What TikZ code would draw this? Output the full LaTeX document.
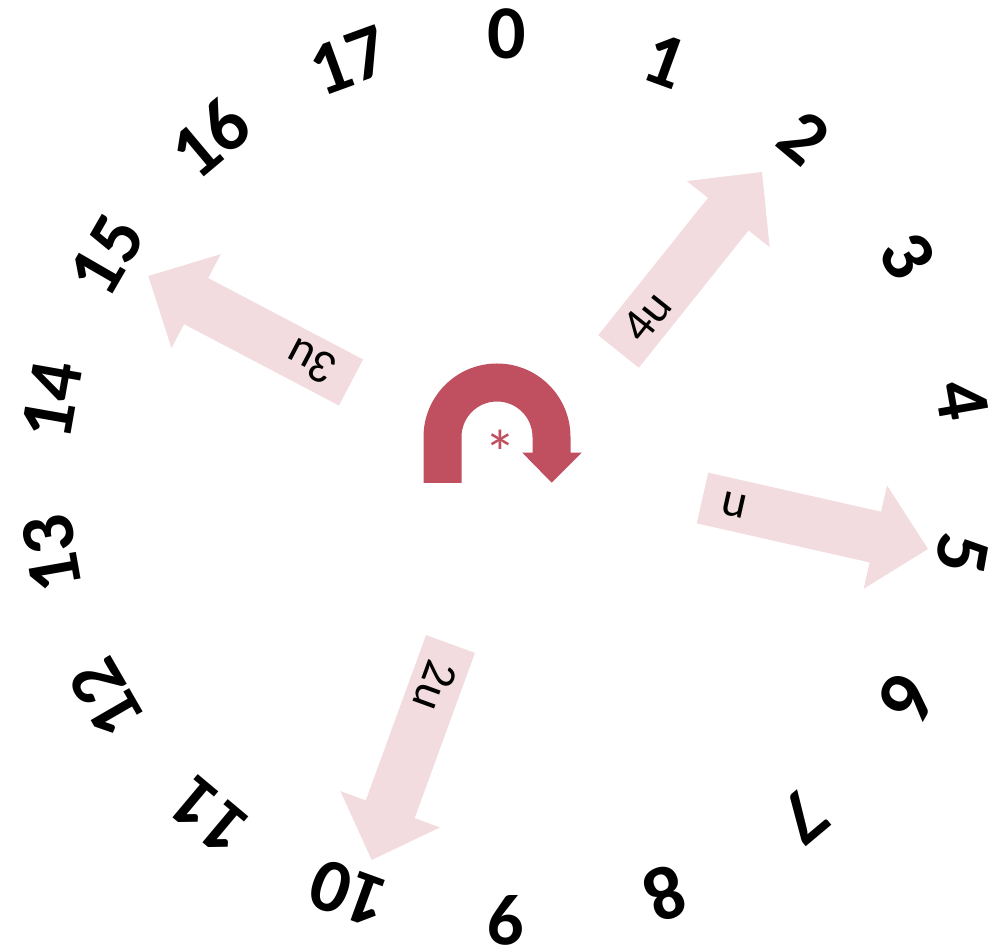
\documentclass[tikz,border=0pt]{standalone}
\usepackage{fontspec}
\setmainfont{Carlito}
\usetikzlibrary{calc}
\definecolor{uturn}{RGB}{192,80,96}
\definecolor{pinkarrow}{RGB}{242,220,223}
\newcommand{\blockarrow}[2]{%
  \coordinate (#1h) at ($(#2)!54pt!(#1)$);
  \fill[pinkarrow] ($(#1)!26pt!90:(#2)$) -- ($(#1h)!26pt!90:(#2)$) -- ($(#1h)!53pt!90:(#2)$) -- (#2)
    -- ($(#1h)!53pt!-90:(#2)$) -- ($(#1h)!26pt!-90:(#2)$) -- ($(#1)!26pt!-90:(#2)$) -- cycle;
}
\tikzset{
  num/.style={font=\fontsize{76}{80}\selectfont\bfseries, inner sep=0pt, text=black},
  arrlabel/.style={font=\fontsize{48}{52}\selectfont, inner sep=0pt, anchor=west, text=black},
  star/.style={font=\fontsize{64}{68}\selectfont, inner sep=0pt, anchor=base, text=uturn}
}
\begin{document}
\begin{tikzpicture}[x=1pt,y=1pt]
\useasboundingbox (0,0) rectangle (1001,950);
% numbers on the dial
\foreach \k in {0,...,17} {
  \pgfmathsetmacro\a{90-20*\k}
  \pgfmathsetmacro\r{-20*\k}
  \node[num, rotate=\r] (n\k) at ({507+462*cos(\a)},{473+443*sin(\a)}) {\k};
}
% block arrows
\coordinate (ta) at (702.5,452);   \coordinate (pa) at (928,401);
\coordinate (tb) at (450.5,306);   \coordinate (pb) at (371.7,90);
\coordinate (tc) at (351,567.5);   \coordinate (pc) at (148.3,674);
\coordinate (td) at (618.5,598.5); \coordinate (pd) at (762,778);
\blockarrow{ta}{pa}
\blockarrow{tb}{pb}
\blockarrow{tc}{pc}
\blockarrow{td}{pd}
\node[arrlabel, rotate=-12.7] (la) at ($(ta)!20pt!(pa)$) {u};
\node[arrlabel, rotate=-110] (lb) at ($(tb)!20pt!(pb)$) {2u};
\node[arrlabel, rotate=152.3] (lc) at ($(tc)!20pt!(pc)$) {3u};
\node[arrlabel, rotate=51.4] (ld) at ($(td)!20pt!(pd)$) {4u};
% U-turn arrow
\fill[uturn] (423.5,467) -- (423.5,513) arc (180:0:73.5) -- (570.5,497.3) -- (581.7,497.3)
  -- (551.7,467.3) -- (522.3,497.3) -- (532.5,497.3) -- (532.5,513) arc (0:180:35.5)
  -- (461.5,467) -- cycle;
\node[star] (st) at (500,474) {*};
\end{tikzpicture}
\end{document}
